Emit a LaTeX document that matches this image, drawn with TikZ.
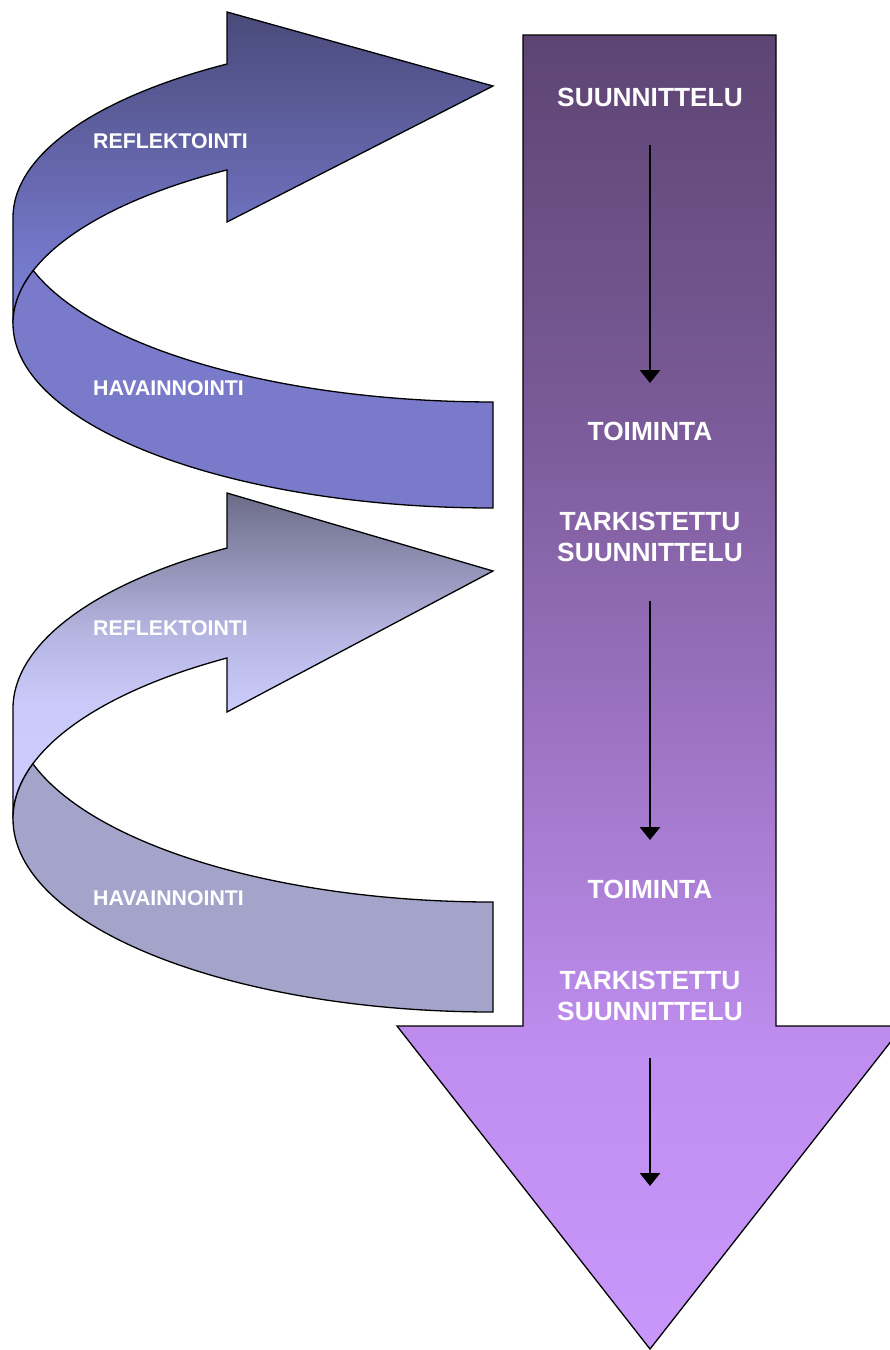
\documentclass[tikz,border=0pt]{standalone}
\usepackage{fontspec}
\setmainfont{Liberation Sans}
\usetikzlibrary{arrows.meta}

\definecolor{bigTop}{HTML}{5D4573}
\definecolor{bigUp}{HTML}{7B5B99}
\definecolor{bigLow}{HTML}{C08EF0}
\definecolor{bigTip}{HTML}{C997FB}
\definecolor{loopAtop}{HTML}{4A4A7A}
\definecolor{loopAbot}{HTML}{7F84DE}
\definecolor{loopAfront}{HTML}{7A7ACA}
\definecolor{loopBtop}{HTML}{6C6C88}
\definecolor{loopBmid}{HTML}{B4B4E0}
\definecolor{loopBlow}{HTML}{CACAFA}
\definecolor{loopBbot}{HTML}{CCCCFF}
\definecolor{loopBfront}{HTML}{A4A4CA}

% main downward arrow: 75bp = top of shaft, 25bp = tip
\pgfdeclareverticalshading{bigdown}{100bp}{%
  color(0bp)=(bigTip); color(25bp)=(bigTip); color(36bp)=(bigLow);
  color(60bp)=(bigUp); color(75bp)=(bigTop); color(100bp)=(bigTop)}
% lower loop, back half
\pgfdeclareverticalshading{loopback}{100bp}{%
  color(0bp)=(loopBbot); color(25bp)=(loopBbot); color(43bp)=(loopBlow);
  color(54bp)=(loopBmid); color(75bp)=(loopBtop); color(100bp)=(loopBtop)}

\begin{document}
\begin{tikzpicture}[x=1pt,y=1pt,
  outline/.style={draw=black, line width=1.3pt},
  stagelabel/.style={text=white, font=\bfseries\fontsize{26.3}{31.5}\selectfont,
    align=center, inner sep=0pt},
  looplabel/.style={text=white, font=\bfseries\fontsize{21.3}{25}\selectfont,
    anchor=west, inner sep=0pt},
  flow/.style={line width=2.8pt, -{Triangle[width=20pt,length=13pt]}}
]
\useasboundingbox (0,0) rectangle (890,-1350);
\clip (0,0) rectangle (890,-1350);

% ---- upper loop (ellipses centred at x=493, y=-217.5 and y=-323.5) ----
\path[outline, top color=loopAtop, bottom color=loopAbot]
  (227,-64) arc[start angle=123.65, end angle=180, x radius=480, y radius=184.5]
  -- (13,-323.5) arc[start angle=180, end angle=123.65, x radius=480, y radius=184.5]
  -- (227,-222) -- (493,-86) -- (227,-12) -- cycle;
\path[outline, fill=loopAfront]
  (13,-323.5) arc[start angle=180, end angle=163.3, x radius=480, y radius=184.5]
  arc[start angle=196.7, end angle=270, x radius=480, y radius=184.5]
  -- (493,-508) arc[start angle=270, end angle=180, x radius=480, y radius=184.5]
  -- cycle;

% ---- lower loop (ellipses centred at x=493, y=-708.8 and y=-818.8) ----
\path[outline, shading=loopback]
  (227,-548) arc[start angle=123.65, end angle=180, x radius=480, y radius=193.2]
  -- (13,-818.8) arc[start angle=180, end angle=123.65, x radius=480, y radius=193.2]
  -- (227,-712) -- (493,-571) -- (227,-493) -- cycle;
\path[outline, fill=loopBfront]
  (13,-818.8) arc[start angle=180, end angle=163.46, x radius=480, y radius=193.2]
  arc[start angle=196.54, end angle=270, x radius=480, y radius=193.2]
  -- (493,-1012) arc[start angle=270, end angle=180, x radius=480, y radius=193.2]
  -- cycle;

% ---- main downward arrow ----
\path[outline, shading=bigdown]
  (523,-35) -- (776,-35) -- (776,-1026) -- (903,-1026) -- (650,-1349)
  -- (397,-1026) -- (523,-1026) -- cycle;

% ---- loop labels ----
\node[looplabel] (refl1) at (93,-141) {REFLEKTOINTI};
\node[looplabel] (hav1)  at (93,-388) {HAVAINNOINTI};
\node[looplabel] (refl2) at (93,-628) {REFLEKTOINTI};
\node[looplabel] (hav2)  at (93,-898) {HAVAINNOINTI};

% ---- stage labels ----
\node[stagelabel] (plan1) at (650,-97.5) {SUUNNITTELU};
\node[stagelabel] (act1)  at (650,-431)  {TOIMINTA};
\node[stagelabel] (plan2) at (650,-537)  {TARKISTETTU\\SUUNNITTELU};
\node[stagelabel] (act2)  at (650,-889)  {TOIMINTA};
\node[stagelabel] (plan3) at (650,-996)  {TARKISTETTU\\SUUNNITTELU};

% ---- inner flow arrows ----
\coordinate (f1s) at (650,-145);  \coordinate (f1e) at (650,-383);
\coordinate (f2s) at (650,-601);  \coordinate (f2e) at (650,-840);
\coordinate (f3s) at (650,-1058); \coordinate (f3e) at (650,-1186);
\draw[flow] (f1s) -- (f1e);
\draw[flow] (f2s) -- (f2e);
\draw[flow] (f3s) -- (f3e);
\end{tikzpicture}
\end{document}
